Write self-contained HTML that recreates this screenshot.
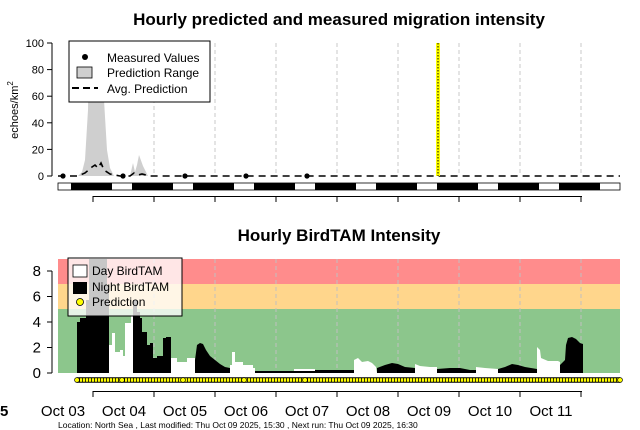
<!DOCTYPE html>
<html><head><meta charset="utf-8"><style>
html,body{margin:0;padding:0;background:#fff;}
svg{display:block;font-family:"Liberation Sans",Arial,sans-serif;}
</style></head><body>
<svg width="640" height="430" viewBox="0 0 640 430" xmlns="http://www.w3.org/2000/svg">
<rect width="640" height="430" fill="#fff"/>
<!-- TOP PLOT -->
<text x="339" y="25" font-size="17" font-weight="bold" text-anchor="middle">Hourly predicted and measured migration intensity</text>
<g stroke="#c8c8c8" stroke-dasharray="4,3" stroke-width="1">
<line x1="93" y1="43" x2="93" y2="176"/><line x1="154" y1="43" x2="154" y2="176"/><line x1="215" y1="43" x2="215" y2="176"/><line x1="276" y1="43" x2="276" y2="176"/><line x1="337" y1="43" x2="337" y2="176"/><line x1="398" y1="43" x2="398" y2="176"/><line x1="459" y1="43" x2="459" y2="176"/><line x1="520" y1="43" x2="520" y2="176"/><line x1="581" y1="43" x2="581" y2="176"/>
</g>
<path d="M78,176 L82,172 L85,160 L88,110 L89,43 L102,43 L104,100 L107,150 L110,168 L114,176 Z" fill="#cfcfcf"/>
<path d="M130,176 L133,163 L135,172 L137,165 L139,155 L143,166 L148,176 Z" fill="#cfcfcf"/>
<path d="M58,176 L78,176 L85,173 L92,167 L95,165 L98,168 L101,163 L104,170 L110,174 L120,176 L130,176 L134,173 L138,175 L142,174 L150,176 L620,176" fill="none" stroke="#000" stroke-width="1.6" stroke-dasharray="7,5"/>
<line x1="438" y1="43" x2="438" y2="176" stroke="#ffff00" stroke-width="4"/>
<line x1="438" y1="43" x2="438" y2="176" stroke="#000" stroke-width="1" stroke-dasharray="1.5,1.5"/>
<g fill="#000"><circle cx="63" cy="176" r="2.6"/><circle cx="123" cy="176" r="2.6"/><circle cx="185" cy="176" r="2.6"/><circle cx="246" cy="176" r="2.6"/><circle cx="307" cy="176" r="2.6"/></g>
<g stroke="#000" stroke-width="1"><line x1="52" y1="43" x2="52" y2="176"/>
<line x1="47" y1="43" x2="52" y2="43"/><line x1="47" y1="69.6" x2="52" y2="69.6"/><line x1="47" y1="96.2" x2="52" y2="96.2"/><line x1="47" y1="122.8" x2="52" y2="122.8"/><line x1="47" y1="149.4" x2="52" y2="149.4"/><line x1="47" y1="176" x2="52" y2="176"/></g>
<g font-size="11" text-anchor="end"><text x="44" y="47">100</text><text x="44" y="73.6">80</text><text x="44" y="100.2">60</text><text x="44" y="126.8">40</text><text x="44" y="153.4">20</text><text x="44" y="180">0</text></g>
<text transform="translate(18,110) rotate(-90)" font-size="11" text-anchor="middle">echoes/km<tspan font-size="8" dy="-5">2</tspan></text>
<rect x="69" y="41" width="141" height="61" fill="#fff" stroke="#000" stroke-width="1"/>
<circle cx="85" cy="57" r="3" fill="#000"/>
<rect x="77" y="67" width="15" height="11" fill="#cfcfcf" stroke="#000" stroke-width="0.8"/>
<line x1="72" y1="88" x2="98" y2="88" stroke="#000" stroke-width="2" stroke-dasharray="7,4"/>
<g font-size="12"><text x="107" y="62">Measured Values</text><text x="107" y="77">Prediction Range</text><text x="107" y="93">Avg. Prediction</text></g>
<rect x="58" y="183" width="562" height="7" fill="#fff" stroke="#000" stroke-width="0.8"/>
<g fill="#000"><rect x="71" y="183" width="41" height="7"/><rect x="132" y="183" width="41" height="7"/><rect x="193" y="183" width="41" height="7"/><rect x="254" y="183" width="41" height="7"/><rect x="315" y="183" width="41" height="7"/><rect x="376" y="183" width="41" height="7"/><rect x="437" y="183" width="41" height="7"/><rect x="498" y="183" width="41" height="7"/><rect x="559" y="183" width="41" height="7"/></g>
<g stroke="#000" stroke-width="1"><line x1="93" y1="196.5" x2="582" y2="196.5"/>
<line x1="93" y1="196" x2="93" y2="202"/><line x1="154" y1="196" x2="154" y2="202"/><line x1="215" y1="196" x2="215" y2="202"/><line x1="276" y1="196" x2="276" y2="202"/><line x1="337" y1="196" x2="337" y2="202"/><line x1="398" y1="196" x2="398" y2="202"/><line x1="459" y1="196" x2="459" y2="202"/><line x1="520" y1="196" x2="520" y2="202"/><line x1="581" y1="196" x2="581" y2="202"/></g>
<!-- BOTTOM PLOT -->
<text x="339" y="241" font-size="17" font-weight="bold" text-anchor="middle">Hourly BirdTAM Intensity</text>
<rect x="58" y="259" width="562" height="25" fill="#ff8c8c"/>
<rect x="58" y="284" width="562" height="25" fill="#ffd68c"/>
<rect x="58" y="309" width="562" height="64" fill="#8cc68c"/>
<g stroke="#c0c0c0" stroke-dasharray="4,3" stroke-width="1">
<line x1="154" y1="259" x2="154" y2="373"/><line x1="215" y1="259" x2="215" y2="373"/><line x1="276" y1="259" x2="276" y2="373"/><line x1="337" y1="259" x2="337" y2="373"/><line x1="398" y1="259" x2="398" y2="373"/><line x1="459" y1="259" x2="459" y2="373"/><line x1="520" y1="259" x2="520" y2="373"/><line x1="581" y1="259" x2="581" y2="373"/>
</g>
<!-- day (white) -->
<path fill="#fff" d="M109,373 L109,345 L112,345 L112,333 L115,333 L115,352 L120,352 L120,350 L123,350 L123,356 L125,356 L125,323 L131,323 L131,315 L133,315 L133,373 Z
M171,373 L171,358 L177,358 L177,362 L187,362 L187,358 L195,358 L195,373 Z
M230,373 L230,365 L232,365 L232,352 L235,352 L235,362 L243,362 L243,365 L253,365 L253,368 L255,368 L255,373 Z
M294,373 L294,369 L315,369 L315,373 Z
M354,373 L354,360 L358,358 L362,362 L368,361 L372,363 L376,367 L377,373 Z
M415,373 L415,364 L420,366 L430,367 L437,367 L437,373 Z
M476,373 L476,367 L485,368 L498,369 L498,373 Z
M537,373 L537,347 L540,350 L541,358 L548,361 L558,361 L560,362 L560,373 Z"/>
<!-- night (black) -->
<path fill="#000" d="M77,373 L77,322 L80,322 L80,318 L86,318 L86,300 L89,300 L89,259 L107,259 L107,285 L109,285 L109,373 Z
M133,373 L133,300 L137,300 L137,312 L140,312 L140,318 L142,318 L142,332 L147,332 L147,345 L150,345 L150,343 L153,343 L153,358 L157,358 L157,356 L163,356 L163,338 L166,338 L166,337 L171,337 L171,373 Z
M195,373 L195,360 L197,345 L200,343 L203,344 L206,350 L210,356 L215,360 L220,364 L225,367 L230,368 L230,373 Z
M255,373 L255,371 L315,371 L315,373 Z
M315,373 L315,370 L354,370 L354,373 Z
M377,373 L377,368 L385,365 L392,363 L398,364 L405,367 L415,368 L415,373 Z
M437,373 L437,369 L450,368 L460,368 L470,370 L476,370 L476,373 Z
M498,373 L498,369 L505,367 L512,364 L518,365 L525,367 L537,369 L537,373 Z
M560,373 L560,365 L565,360 L566,345 L568,338 L572,337 L576,339 L580,343 L583,344 L583,373 Z"/>
<line x1="77" y1="380" x2="620" y2="380" stroke="#000" stroke-width="5.5"/>
<line x1="77" y1="380" x2="620" y2="380" stroke="#ffff00" stroke-width="3.5" stroke-dasharray="2.2,0.8"/>
<g fill="#ffff00" stroke="#000" stroke-width="0.7"><circle cx="77" cy="380" r="2.4"/><circle cx="122" cy="380" r="2.4"/><circle cx="183" cy="380" r="2.4"/><circle cx="244" cy="380" r="2.4"/><circle cx="305" cy="380" r="2.4"/><circle cx="620" cy="380" r="2.4"/></g>
<g stroke="#000" stroke-width="1"><line x1="52" y1="271" x2="52" y2="373"/>
<line x1="47" y1="271" x2="52" y2="271"/><line x1="47" y1="296.5" x2="52" y2="296.5"/><line x1="47" y1="322" x2="52" y2="322"/><line x1="47" y1="347.5" x2="52" y2="347.5"/><line x1="47" y1="373" x2="52" y2="373"/></g>
<g font-size="15" text-anchor="end"><text x="41" y="276">8</text><text x="41" y="301.5">6</text><text x="41" y="327">4</text><text x="41" y="352.5">2</text><text x="41" y="378">0</text></g>
<rect x="68" y="258" width="114" height="58" fill="rgba(255,255,255,0.78)" stroke="#000" stroke-width="1"/>
<rect x="73" y="265" width="14" height="12" fill="#fff" stroke="#000" stroke-width="0.8"/>
<rect x="73" y="282" width="14" height="12" fill="#000"/>
<circle cx="80" cy="302" r="3.5" fill="#ffff00" stroke="#000" stroke-width="0.8"/>
<g font-size="12"><text x="92" y="275">Day BirdTAM</text><text x="92" y="291">Night BirdTAM</text><text x="92" y="306">Prediction</text></g>
<g stroke="#000" stroke-width="1"><line x1="93" y1="391.5" x2="582" y2="391.5"/>
<line x1="93" y1="391" x2="93" y2="397"/><line x1="154" y1="391" x2="154" y2="397"/><line x1="215" y1="391" x2="215" y2="397"/><line x1="276" y1="391" x2="276" y2="397"/><line x1="337" y1="391" x2="337" y2="397"/><line x1="398" y1="391" x2="398" y2="397"/><line x1="459" y1="391" x2="459" y2="397"/><line x1="520" y1="391" x2="520" y2="397"/><line x1="581" y1="391" x2="581" y2="397"/></g>
<g font-size="15" text-anchor="middle"><text x="63" y="416">Oct 03</text><text x="124" y="416">Oct 04</text><text x="185" y="416">Oct 05</text><text x="246" y="416">Oct 06</text><text x="307" y="416">Oct 07</text><text x="368" y="416">Oct 08</text><text x="429" y="416">Oct 09</text><text x="490" y="416">Oct 10</text><text x="551" y="416">Oct 11</text></g>
<text x="0" y="416" font-size="15" font-weight="bold">5</text>
<text x="58" y="428" font-size="8.5">Location:  North Sea , Last modified:  Thu Oct 09 2025, 15:30 , Next run:  Thu Oct 09 2025, 16:30</text>
</svg>
</body></html>
